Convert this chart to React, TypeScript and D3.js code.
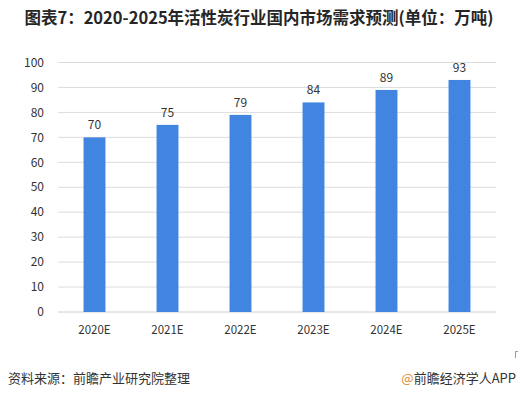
import React from "react";
import * as d3 from "d3";

const categories = ["2020E", "2021E", "2022E", "2023E", "2024E", "2025E"];
const values = [70, 75, 79, 84, 89, 93];
const yTicks = [0, 10, 20, 30, 40, 50, 60, 70, 80, 90, 100];
const title = "图表7：2020-2025年活性炭行业国内市场需求预测(单位：万吨)";
const source = "资料来源：前瞻产业研究院整理";
const credit = "前瞻经济学人APP";

export default function App() {
  const W = 518, H = 397;
  const left = 58, right = 496, top = 62.5, bottom = 312;
  const x = d3.scaleBand<string>().domain(categories).range([left, right]).paddingInner(0.7).paddingOuter(0.35);
  const y = d3.scaleLinear().domain([0, 100]).range([bottom, top]);
  const font = "'Microsoft YaHei','Noto Sans CJK SC','Noto Sans',sans-serif";
  return (
    <svg width={W} height={H} style={{ position: "absolute", left: 0, top: 0, background: "#fff" }} fontFamily={font}>
      <text x={259} y={24} textAnchor="middle" fontSize={16.5} fontWeight="bold" fill="#262626">{title}</text>
      {yTicks.map((t) => (
        <g key={t}>
          <line x1={left} x2={right} y1={y(t)} y2={y(t)} stroke={t === 0 ? "#d0d0d0" : "#dcdcdc"} strokeWidth={1} />
          <text x={44} y={y(t)} dy="0.35em" textAnchor="end" fontSize={12} fill="#333">{t}</text>
        </g>
      ))}
      {categories.map((c, i) => (
        <g key={c}>
          <rect x={x(c)} y={y(values[i])} width={x.bandwidth()} height={bottom - y(values[i])} fill="#4285e0" />
          <text x={(x(c) as number) + x.bandwidth() / 2} y={y(values[i]) - 8} textAnchor="middle" fontSize={12} fill="#333">{values[i]}</text>
          <text x={(x(c) as number) + x.bandwidth() / 2} y={330} dy="0.35em" textAnchor="middle" fontSize={11.5} fill="#333">{c}</text>
        </g>
      ))}
      <text x={8} y={383} fontSize={13} fill="#333">{source}</text>
      <text x={516} y={383} textAnchor="end" fontSize={13} fill="#333">
        <tspan fill="#e08a2c">@</tspan>{credit}
      </text>
      <path d="M515.5,358 V351.5 H518" fill="none" stroke="#999" strokeWidth={1} />
    </svg>
  );
}
